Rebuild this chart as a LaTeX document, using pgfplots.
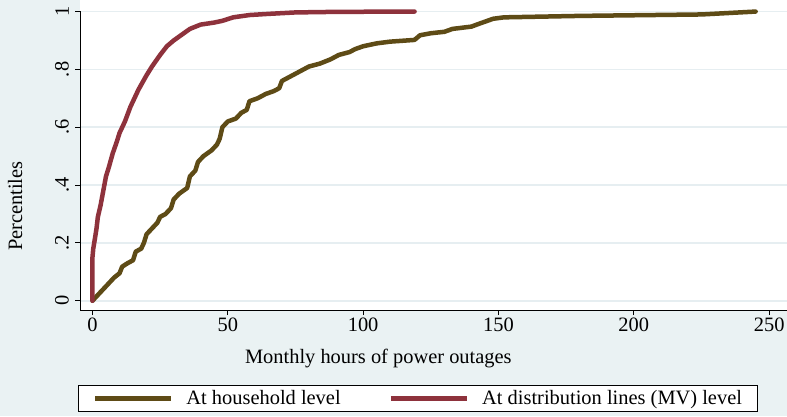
\documentclass[border=0pt]{standalone}
\usepackage{pgfplots}
\pgfplotsset{compat=1.18}
\usepackage{fontspec}
\setmainfont{Liberation Serif}
\definecolor{bg}{RGB}{234,242,243}
\definecolor{gridc}{RGB}{230,238,241}
\definecolor{hh}{RGB}{94,75,22}
\definecolor{mv}{RGB}{142,50,60}
\pgfplotstableread{
x y
0 0
2 0.02
5 0.05
8 0.08
10 0.095
11 0.118
13 0.13
15 0.14
16 0.17
18 0.18
19 0.20
20 0.23
22 0.25
24 0.27
25 0.29
27 0.30
29 0.32
30 0.35
32 0.37
35 0.39
36 0.43
38 0.45
39 0.48
41 0.50
44 0.52
46 0.54
47 0.56
48 0.60
50 0.62
53 0.63
55 0.65
57 0.66
58 0.69
61 0.70
64 0.715
67 0.725
69 0.735
70 0.76
72 0.77
74 0.78
76 0.79
80 0.81
84 0.82
88 0.835
91 0.85
95 0.86
97 0.87
100 0.88
105 0.89
110 0.896
119 0.902
121 0.918
125 0.925
130 0.93
133 0.94
140 0.948
142 0.955
145 0.965
148 0.975
152 0.98
180 0.985
225 0.99
245 1.0
}\household
\pgfplotstableread{
x y
0 0
0 0.15
0.3 0.18
1 0.22
1.5 0.25
2 0.29
3 0.33
4 0.38
5 0.43
6 0.46
7.5 0.51
9 0.55
10 0.58
12 0.62
14 0.67
15 0.69
17 0.73
20 0.78
22 0.81
25 0.85
27.5 0.88
30 0.90
33 0.92
36 0.94
40 0.955
45 0.962
48 0.968
52 0.98
58 0.988
65 0.992
75 0.997
90 0.999
119 1.0
}\mvlines
\begin{document}
\fontsize{20.5}{24}\selectfont
\begin{tikzpicture}[x=1bp,y=1bp,font=\fontsize{20.5}{24}\selectfont]
\fill[bg] (0,0) rectangle (787,416);
\useasboundingbox (0,0) rectangle (787,416);
\begin{axis}[
  at={(80bp,106bp)}, anchor=south west,
  scale only axis, width=707bp, height=310bp,
  xmin=-4.6, xmax=256.6, ymin=-0.032, ymax=1.04,
  axis x line*=bottom, axis y line*=left,
  axis line style={black, line width=0.9bp, -},
  y axis line style={shorten >=11.5bp},
  axis background/.style={fill=white},
  xtick={0,50,100,150,200,250}, xticklabels={0,50,100,150,200,250},
  ytick={0,0.2,0.4,0.6,0.8,1}, yticklabels={0,.2,.4,.6,.8,1},
  tick align=outside, major tick length=5bp,
  tick style={black, line width=0.9bp},
  minor tick num=0,
  yticklabel style={rotate=90, anchor=south, inner sep=6bp},
  xticklabel style={inner sep=3bp},
  ymajorgrids, major grid style={gridc, line width=1.8bp},
  xlabel={Monthly hours of power outages},
  ylabel={Percentiles},
  x label style={at={(rel axis cs:0.422,-0.155)}, anchor=center},
  y label style={at={(rel axis cs:-0.0919,0.335)}, anchor=center},
  legend columns=2,
  legend style={at={(0.478,-0.2855)}, anchor=center, draw=black, line width=0.9bp, fill=white,
    inner xsep=14bp, inner ysep=3bp, nodes={inner sep=1bp, anchor=west},
    /tikz/column 1/.style={column sep=12bp},
    /tikz/column 2/.style={column sep=47bp},
    /tikz/column 3/.style={column sep=12bp}},
  legend image code/.code={\draw[#1, line width=4.5bp, line cap=butt] (0bp,0bp) -- (76bp,0bp);},
]
\addplot[hh, line width=4.5bp, line join=round, line cap=round] table[x=x,y=y] {\household};
\addlegendentry{At household level}
\addplot[mv, line width=4.5bp, line join=round, line cap=round] table[x=x,y=y] {\mvlines};
\addlegendentry{At distribution lines (MV) level}
\end{axis}
\end{tikzpicture}
\end{document}
